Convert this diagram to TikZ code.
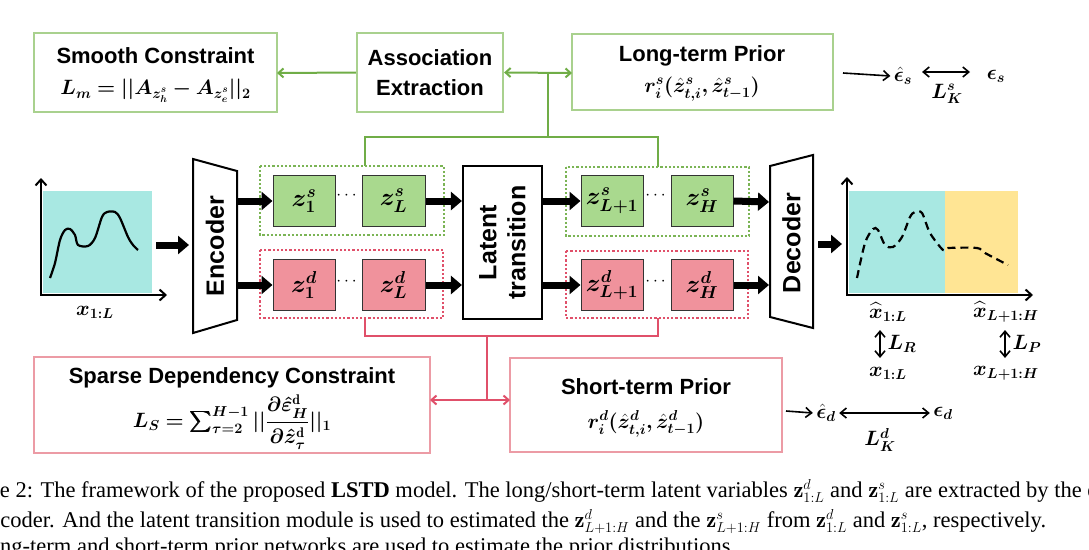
\documentclass[tikz,border=0pt]{standalone}
\usepackage{amsmath,bm}
\usepackage{fontspec}
\setsansfont{Liberation Sans}
\newfontfamily\capfont{Liberation Serif}
\usetikzlibrary{arrows.meta,shapes.geometric}
\definecolor{gline}{HTML}{70AD47}
\definecolor{gbord}{HTML}{A9D18E}
\definecolor{gfill}{HTML}{A9D98E}
\definecolor{rline}{HTML}{E0506A}
\definecolor{rbord}{HTML}{EC9BA5}
\definecolor{rfill}{HTML}{F0929C}
\definecolor{cyanf}{HTML}{A8E8E2}
\definecolor{yelf}{HTML}{FFE594}
\begin{document}
\begin{tikzpicture}[x=1pt,y=-1pt,
  gbox/.style={draw=gbord,line width=2.2pt,fill=white},
  rbox/.style={draw=rbord,line width=2.2pt,fill=white},
  title/.style={font=\sffamily\bfseries\fontsize{22}{26}\selectfont,align=center},
  vtitle/.style={font=\sffamily\bfseries\fontsize{25}{29}\selectfont,align=center,rotate=90},
  zs/.style={draw=black!80,line width=1pt,fill=gfill},
  zd/.style={draw=black!80,line width=1pt,fill=rfill},
  zt/.style={font=\fontsize{26}{28}\selectfont},
  fat/.style={line width=7pt,-{Triangle[width=18pt,length=11pt]}},
  thin/.style={line width=1.6pt,-{Straight Barb[length=6pt,width=10pt]}},
  dbl/.style={line width=1.6pt,{Straight Barb[length=6pt,width=10pt]}-{Straight Barb[length=6pt,width=10pt]}},
  glk/.style={draw=gline,line width=2pt},
  rlk/.style={draw=rline,line width=2pt},
  mth/.style={font=\fontsize{20}{22}\selectfont},
  captxt/.style={font=\capfont\fontsize{22.5}{24}\selectfont,anchor=base west,inner sep=0pt}]
\useasboundingbox (0,0) rectangle (1089,549);
\clip (0,0) rectangle (1089,549);
% top boxes
\draw[gbox] (34,33) rectangle (277,112);
\node[title] (sc) at (155.5,56) {Smooth Constraint};
\node[mth] (scf) at (155.5,91) {$\bm{L_m=||A_{z^s_h}-A_{z^s_e}||_2}$};
\node[gbox,title,minimum width=146pt,minimum height=79pt,inner sep=0pt] (ae) at (430,72.5) {Association\\[4pt]Extraction};
\draw[gbox] (572,34) rectangle (833,110);
\node[title] (lt) at (702,56) {Long-term Prior};
\node[mth] (ltf) at (702,89) {$\bm{r^s_i(\hat{z}^s_{t,i},\hat{z}^s_{t-1})}$};
\coordinate (scR) at (277,73);
\coordinate (ltL) at (572,73);
\draw[glk,-{Straight Barb[length=5pt,width=9pt]}] (ae.west) -- (scR);
\draw[glk,{Straight Barb[length=5pt,width=9pt]}-{Straight Barb[length=5pt,width=9pt]}] (ae.east) -- (ltL);
\coordinate (gj) at (548,73);
\coordinate (gj2) at (548,137);
\draw[glk] (gj) -- (gj2);
\draw[glk] (365,166) |- (658,137) -- (658,167);
% eps s
\coordinate (a1) at (843,73); \node[mth] (ehs) at (903,76) {$\bm{\hat{\epsilon}_s}$};
\draw[thin] (a1) -- (ehs.west);
\node[mth] (es) at (996,76) {$\bm{\epsilon_s}$};
\coordinate (d1) at (922,72); \coordinate (d2) at (970,72);
\draw[dbl] (d1) -- (d2);
\node[mth] (lks) at (947,94) {$\bm{L^s_K}$};
% input plot
\fill[cyanf] (43,191) rectangle (152,293);
\coordinate (o1) at (41,295);
\draw[line width=2pt,{Straight Barb[length=6pt,width=11pt]}-{Straight Barb[length=6pt,width=11pt]}] (41,178) -- (o1) -- (167,295);
\draw[line width=2.2pt] plot[smooth] coordinates {(50,278)(55,263)(60,240)(65,230)(70,229)(75,235)(78,245)(88,246)(95,238)(102,217)(107,212)(115,212)(120,218)(128,237)(133,245)(138,250)};
\node[mth] (x1) at (95,312) {$\bm{x_{1:L}}$};
% encoder
\draw[line width=2pt,fill=white] (193,159) -- (237,171) -- (237,320) -- (193,333) -- cycle;
\node[vtitle] (enc) at (215,246) {Encoder};
\coordinate (p1) at (156,245); \coordinate (p2) at (189,245);
\draw[fat] (p1) -- (p2);
\coordinate (e1) at (237,201); \coordinate (e2) at (237,285);
% dotted groups
\draw[gline!80!gbord,line width=2.2pt,dotted] (260,166) rectangle (444,235);
\draw[rline,line width=2.2pt,dotted] (260,250) rectangle (443,318);
\draw[gline!80!gbord,line width=2.2pt,dotted] (566,167) rectangle (749,236);
\draw[rline,line width=2.2pt,dotted] (566,251) rectangle (748,318);
% z boxes
\node[zs,minimum width=62pt,minimum height=51pt,zt] (s1) at (304,201) {$\bm{z^s_1}$};
\node[zs,minimum width=63pt,minimum height=51pt,zt] (sL) at (393.5,201) {$\bm{z^s_L}$};
\node[zd,minimum width=62pt,minimum height=51pt,zt] (d1b) at (304,285) {$\bm{z^d_1}$};
\node[zd,minimum width=63pt,minimum height=51pt,zt] (dL) at (393.5,285) {$\bm{z^d_L}$};
\node[zs,minimum width=62pt,minimum height=51pt,zt,inner sep=1pt] (sL1) at (612,201) {$\bm{z^s_{L+1}}$};
\node[zs,minimum width=62pt,minimum height=51pt,zt] (sH) at (702,201) {$\bm{z^s_H}$};
\node[zd,minimum width=62pt,minimum height=51pt,zt,inner sep=1pt] (dL1) at (612,285) {$\bm{z^d_{L+1}}$};
\node[zd,minimum width=62pt,minimum height=51pt,zt] (dH) at (702,285) {$\bm{z^d_H}$};
\node[font=\bfseries\fontsize{16}{16}\selectfont] (dt1) at (348,196) {$\cdots$};
\node[font=\bfseries\fontsize{16}{16}\selectfont] (dt2) at (348,282) {$\cdots$};
\node[font=\bfseries\fontsize{16}{16}\selectfont] (dt3) at (657,196) {$\cdots$};
\node[font=\bfseries\fontsize{16}{16}\selectfont] (dt4) at (657,282) {$\cdots$};
\draw[fat] (e1) -- (s1.west);
\draw[fat] (e2) -- (d1b.west);
% latent transition
\node[draw,line width=2.2pt,minimum width=79pt,minimum height=153pt,fill=white] (lt2) at (502.5,242.5) {};
\node[vtitle] (ltt) at (502.5,242.5) {Latent\\transition};
\draw[fat] (sL.east) -- (lt2.west |- sL.east);
\draw[fat] (dL.east) -- (lt2.west |- dL.east);
\draw[fat] (lt2.east |- sL1.west) -- (sL1.west);
\draw[fat] (lt2.east |- dL1.west) -- (dL1.west);
% decoder
\draw[line width=2pt,fill=white] (770,166) -- (813,155) -- (813,328) -- (770,317) -- cycle;
\node[vtitle] (dec) at (791.5,243) {Decoder};
\coordinate (dcl1) at (769,202); \coordinate (dcl2) at (769,285);
\draw[fat] (sH.east) -- (dcl1);
\draw[fat] (dH.east) -- (dcl2);
\coordinate (q1) at (818,244); \coordinate (q2) at (842,244);
\draw[fat] (q1) -- (q2);
% output plot
\fill[cyanf] (849,191) rectangle (945,293);
\fill[yelf] (945,191) rectangle (1018,293);
\coordinate (o2) at (847,295);
\draw[line width=2pt,{Straight Barb[length=6pt,width=11pt]}-{Straight Barb[length=6pt,width=11pt]}] (847,177) -- (o2) -- (1033,295);
\draw[line width=2.2pt,dash pattern=on 8pt off 5pt] plot[smooth] coordinates {(857,278)(865,243)(873,229)(878,230)(885,245)(893,247)(902,237)(910,217)(915,212)(922,213)(930,233)(943,250)(948,248)(977,248)(985,253)(1008,265)};
\node[mth] (xh1) at (888,312) {$\bm{\widehat{x}_{1:L}}$};
\node[mth] (xh2) at (1006,312) {$\bm{\widehat{x}_{L+1:H}}$};
\coordinate (v1) at (880,330); \coordinate (v2) at (880,358);
\draw[dbl] (v1) -- (v2);
\node[mth,anchor=west] (lr) at (884,344) {$\bm{L_R}$};
\coordinate (v3) at (1005,330); \coordinate (v4) at (1005,358);
\draw[dbl] (v3) -- (v4);
\node[mth,anchor=west] (lp) at (1009,344) {$\bm{L_P}$};
\node[mth] (x2) at (888,373) {$\bm{x_{1:L}}$};
\node[mth] (x3) at (1006,373) {$\bm{x_{L+1:H}}$};
% red connector and bottom boxes
\draw[rbox] (34,357) rectangle (430,453);
\node[title] (sd) at (232,378) {Sparse Dependency Constraint};
\node[mth] (sdf) at (232,422) {$\bm{L_S=\sum_{\tau=2}^{H-1}||\dfrac{\partial\hat{\varepsilon}^{\mathrm{d}}_H}{\partial\hat{z}^{\mathrm{d}}_\tau}||_1}$};
\draw[rbox] (510,358) rectangle (782,452);
\node[title] (stp) at (646,387) {Short-term Prior};
\node[mth] (stf) at (646,424) {$\bm{r^d_i(\hat{z}^d_{t,i},\hat{z}^d_{t-1})}$};
\draw[rlk] (365,318) |- (658,336) -- (658,318);
\coordinate (rj) at (487,336); \coordinate (rj2) at (487,400);
\coordinate (sdR) at (430,400); \coordinate (stL) at (510,400);
\draw[rlk] (rj) -- (rj2);
\draw[rlk,{Straight Barb[length=5pt,width=9pt]}-{Straight Barb[length=5pt,width=9pt]}] (sdR) -- (stL);
\coordinate (b1) at (786,411); \node[mth] (ehd) at (826,413) {$\bm{\hat{\epsilon}_d}$};
\draw[thin] (b1) -- (ehd.west);
\node[mth] (ed) at (943,413) {$\bm{\epsilon_d}$};
\draw[dbl] (ehd.east) -- (ed.west);
\node[mth] (lkd) at (880,440) {$\bm{L^d_K}$};
% caption
\node[captxt] (c1) at (-49,497) {Figure 2: The framework of the proposed \textbf{LSTD} model. The long/short-term latent variables $\mathbf{z}^d_{1:L}$ and $\mathbf{z}^s_{1:L}$ are extracted by the encoder.};
\node[captxt] (c2) at (-21,527) {encoder. And the latent transition module is used to estimated the $\mathbf{z}^d_{L+1:H}$ and the $\mathbf{z}^s_{L+1:H}$ from $\mathbf{z}^d_{1:L}$ and $\mathbf{z}^s_{1:L}$, respectively.};
\node[captxt] (c3) at (-17.5,553) {long-term and short-term prior networks are used to estimate the prior distributions.};
\end{tikzpicture}
\end{document}
